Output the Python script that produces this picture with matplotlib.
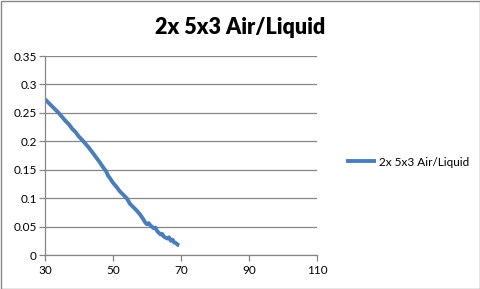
import matplotlib
matplotlib.use("Agg")
import matplotlib.pyplot as plt

x_vals = [30, 31, 32, 33, 34, 35, 36, 37, 38, 39, 40, 41, 42, 43, 44, 45, 46, 47, 48, 48.5,
          49, 50, 51, 52, 53, 54, 55, 56, 57, 58, 59, 59.5, 60, 60.5, 61, 62, 62.5, 63, 64,
          64.5, 65, 66, 66.5, 67, 67.5, 68, 68.5, 69, 69.5]
y_vals = [0.274, 0.268, 0.262, 0.256, 0.250, 0.243, 0.236, 0.230, 0.222, 0.216, 0.208, 0.202,
          0.195, 0.188, 0.180, 0.172, 0.164, 0.155, 0.147, 0.140, 0.136, 0.127, 0.120, 0.112,
          0.106, 0.100, 0.090, 0.084, 0.078, 0.071, 0.062, 0.057, 0.054, 0.056, 0.052, 0.047,
          0.048, 0.042, 0.036, 0.037, 0.032, 0.029, 0.031, 0.025, 0.027, 0.022, 0.021, 0.018, 0.017]
series_name = "2x 5x3 Air/Liquid"
title = "2x 5x3 Air/Liquid"
x_ticks = [30, 50, 70, 90, 110]
y_ticks = [0, 0.05, 0.1, 0.15, 0.2, 0.25, 0.3, 0.35]
y_labels = ["0", "0.05", "0.1", "0.15", "0.2", "0.25", "0.3", "0.35"]

plt.rcParams['font.family'] = ['Lato', 'DejaVu Sans']
fig = plt.figure(figsize=(4.81, 2.89), dpi=100)
fig.patch.set_facecolor('white')
ax = fig.add_axes([45/481, 1-255/289, (317-45)/481, (255-56)/289])

ax.plot(x_vals, y_vals, color='#4a7ebb', lw=2.8, label=series_name, solid_capstyle='butt')
ax.set_xlim(30, 110)
ax.set_ylim(0, 0.35)
ax.set_xticks(x_ticks)
ax.set_xticklabels([str(t) for t in x_ticks])
ax.set_yticks(y_ticks)
ax.set_yticklabels(y_labels)
ax.yaxis.grid(True, color='#868686', lw=0.9)
ax.set_axisbelow(True)
for s in ['top', 'right']:
    ax.spines[s].set_visible(False)
for s in ['left', 'bottom']:
    ax.spines[s].set_color('#868686')
    ax.spines[s].set_linewidth(0.9)
ax.tick_params(axis='both', colors='#868686', labelcolor='black', labelsize=8.5, length=4, width=0.9)
ax.tick_params(axis='y', pad=2)
ax.tick_params(axis='x', pad=3)

fig.text(0.5, 1-27/289, title, ha='center', va='center', fontsize=15.5, fontweight='heavy')

leg = ax.legend(loc='center left', bbox_to_anchor=(341/481, 1-162/289), bbox_transform=fig.transFigure,
                frameon=False, fontsize=8.5, handlelength=2.6, handletextpad=0.2, borderaxespad=0)

fig.add_artist(plt.Rectangle((0.5/481, 0.5/289), 1-1/481, 1-1/289, transform=fig.transFigure,
                             fill=False, edgecolor='#868686', lw=1))
fig.savefig('out.png', dpi=100)
